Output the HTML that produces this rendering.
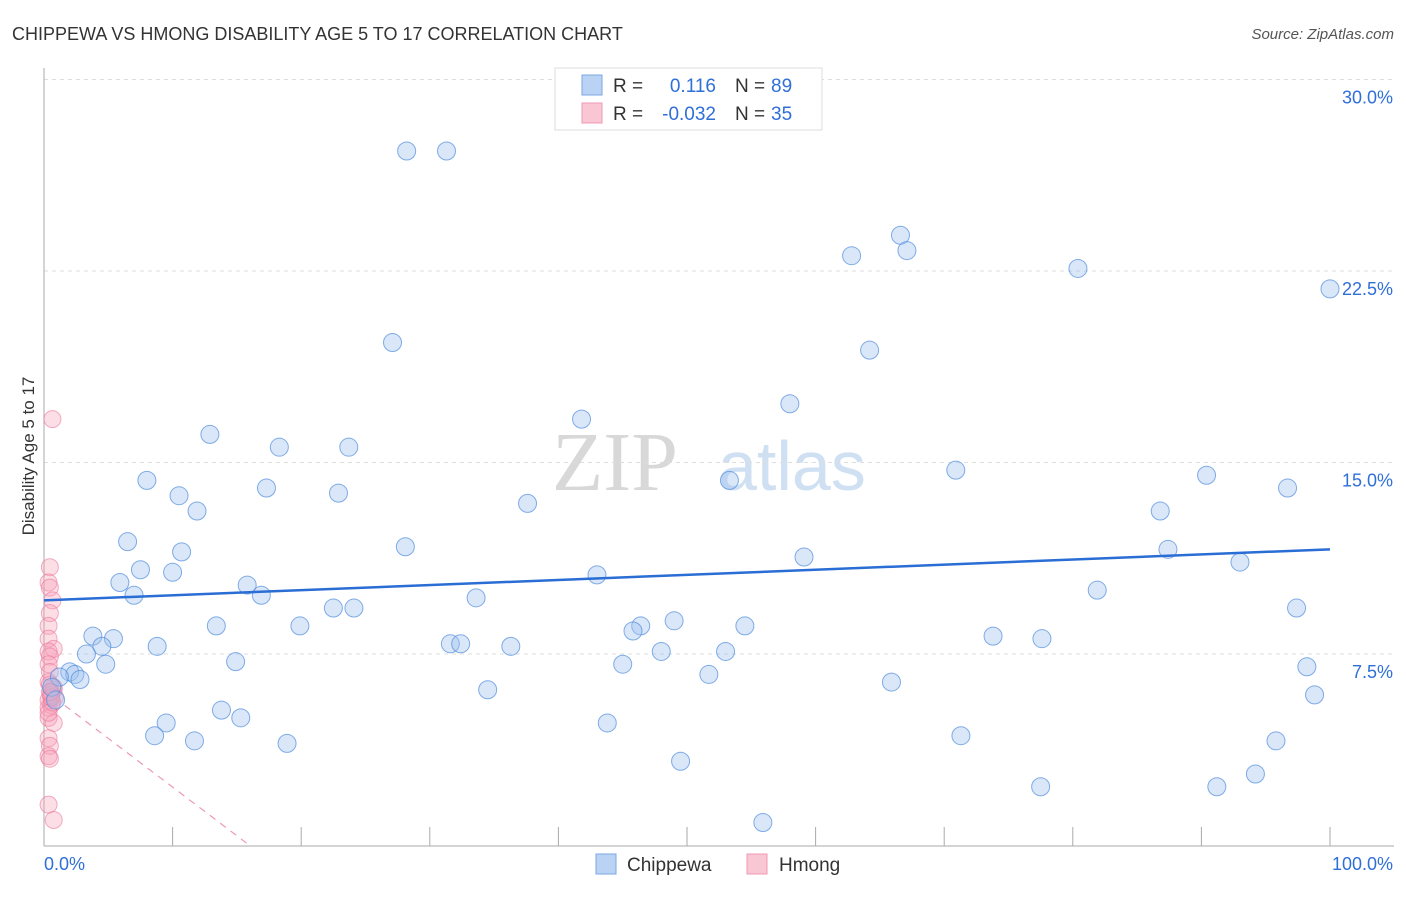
<!DOCTYPE html>
<html><head><meta charset="utf-8"><style>
body{margin:0;background:#fff;font-family:"Liberation Sans",sans-serif;}
</style></head><body>
<svg width="1406" height="892" id="chart" style="font-family:'Liberation Sans',sans-serif">
<text x="12" y="40" font-size="18" fill="#333">CHIPPEWA VS HMONG DISABILITY AGE 5 TO 17 CORRELATION CHART</text>
<text x="1394" y="39" font-size="15" fill="#555" text-anchor="end" font-style="italic">Source: ZipAtlas.com</text>
<text x="552" y="490" font-size="84" fill="#d8d8d8" style="font-family:'Liberation Serif',serif">ZIP</text>
<text x="718" y="490" font-size="70" fill="#cfe0f3">atlas</text>
<g id="grid"></g><g id="axes"></g><g id="marks"></g>
<text transform="translate(34,456) rotate(-90)" font-size="17" fill="#333" text-anchor="middle">Disability Age 5 to 17</text>
<g>
<rect x="555" y="68" width="267" height="62" fill="#fff" stroke="#ddd"/>
<rect x="582" y="75" width="20" height="20" fill="#bad3f4" stroke="#7aa7e4"/>
<rect x="582" y="103" width="20" height="20" fill="#f9c6d4" stroke="#f09ab2"/>
<text x="613" y="92" font-size="19" fill="#333">R = </text><text x="716" y="92" font-size="19" fill="#2f6fd8" text-anchor="end">0.116</text>
<text x="735" y="92" font-size="19" fill="#333">N = </text><text x="771" y="92" font-size="19" fill="#2f6fd8">89</text>
<text x="613" y="120" font-size="19" fill="#333">R = </text><text x="716" y="120" font-size="19" fill="#2f6fd8" text-anchor="end">-0.032</text>
<text x="735" y="120" font-size="19" fill="#333">N = </text><text x="771" y="120" font-size="19" fill="#2f6fd8">35</text>
</g>
<g>
<rect x="596" y="854" width="20" height="20" fill="#bad3f4" stroke="#7aa7e4"/><text x="627" y="871" font-size="19" fill="#333">Chippewa</text>
<rect x="747" y="854" width="20" height="20" fill="#f9c6d4" stroke="#f09ab2"/><text x="779" y="871" font-size="19" fill="#333">Hmong</text>
</g>
</svg>
<script>
const blueX=[28.2,31.3,66.6,67.1,62.8,80.4,100,27.1,64.2,58.0,41.8,12.9,18.3,23.7,70.9,90.4,8.0,53.3,17.3,22.9,10.5,96.7,37.6,11.9,86.8,6.5,28.1,10.7,87.4,59.1,93.0,7.5,10.0,43.0,5.9,15.8,7.0,16.9,81.9,33.6,22.5,24.1,97.4,19.9,13.4,49.0,46.4,54.5,45.8,3.8,5.4,73.8,77.6,31.6,32.4,4.5,8.8,36.3,48.0,53.0,3.3,14.9,4.8,45.0,98.2,2.0,2.4,2.8,1.2,51.7,65.9,0.6,34.5,98.8,0.9,13.8,15.3,9.5,43.8,8.6,71.3,11.7,18.9,95.8,49.5,94.2,77.5,91.2,55.9];
const blueY=[27.2,27.2,23.9,23.3,23.1,22.6,21.8,19.7,19.4,17.3,16.7,16.1,15.6,15.6,14.7,14.5,14.3,14.3,14.0,13.8,13.7,14.0,13.4,13.1,13.1,11.9,11.7,11.5,11.6,11.3,11.1,10.8,10.7,10.6,10.3,10.2,9.8,9.8,10.0,9.7,9.3,9.3,9.3,8.6,8.6,8.8,8.6,8.6,8.4,8.2,8.1,8.2,8.1,7.9,7.9,7.8,7.8,7.8,7.6,7.6,7.5,7.2,7.1,7.1,7.0,6.8,6.7,6.5,6.6,6.7,6.4,6.2,6.1,5.9,5.7,5.3,5.0,4.8,4.8,4.3,4.3,4.1,4.0,4.1,3.3,2.8,2.3,2.3,0.9];
const pinkX=[0.5,0.3,0.2,0.3,0.5,0.3,0.2,0.2,0.6,0.2,0.3,0.2,0.3,0.2,0.6,0.4,0.7,0.2,0.4,0.2,0.2,0.6,0.2,0.3,0.2,0.3,0.2,0.6,0.6,0.4,0.3,0.5,0.2,0.4,0.3];
const pinkY=[16.7,10.9,10.3,10.1,9.6,9.1,8.6,8.1,7.7,7.6,7.4,7.1,6.8,6.4,6.2,6.0,5.8,5.7,5.5,5.4,5.0,4.8,4.2,3.9,3.5,3.4,1.6,1.0,6.1,5.9,6.3,5.6,5.2,5.8,6.0];
const yTicks=[7.5,15.0,22.5,30.0];
const xTickLabels=["0.0%","100.0%"];
const blueTrend=[9.6,11.6];
const pinkTrend=[6.1,0];
const X=v=>44+v*12.86, Y=v=>845.5-v*25.533;
const NS="http://www.w3.org/2000/svg";
function mk(t,a,p){const e=document.createElementNS(NS,t);for(const k in a)e.setAttribute(k,a[k]);p.appendChild(e);return e;}
const grid=document.getElementById('grid'),axes=document.getElementById('axes'),marks=document.getElementById('marks');
yTicks.forEach(t=>{
 const l=mk('line',{x1:44,x2:1394,y1:Y(t),y2:Y(t),stroke:'#ddd','stroke-dasharray':'4,4'},grid);
 
 
 const tx=mk('text',{x:1393,y:Y(t)+24,'font-size':18,fill:'#2f6fd8','text-anchor':'end'},axes);
 tx.textContent=t.toFixed(1)+'%';
 
 
});
let a=mk('line',{x1:44,x2:44,y1:68,y2:846,stroke:'#aaa'},axes);


a=mk('line',{x1:44,x2:1394,y1:846,y2:846,stroke:'#aaa'},axes);


for(let i=1;i<=10;i++){const t=mk('line',{x1:X(i*10),x2:X(i*10),y1:827,y2:846,stroke:'#aaa'},axes);
 
 }
xTickLabels.forEach((s,i)=>{const t=mk('text',{x:i?1393:44,y:870,'font-size':18,fill:'#2f6fd8','text-anchor':i?'end':'start'},axes);t.textContent=s;
 
 });
pinkX.forEach((x,i)=>{const c=mk('circle',{cx:X(x)+2,cy:Y(pinkY[i]),r:8.5,fill:'rgba(246,160,186,0.35)',stroke:'rgba(236,120,155,0.6)'},marks);
 
 });
blueX.forEach((x,i)=>{const c=mk('circle',{cx:X(x),cy:Y(blueY[i]),r:9,fill:'rgba(160,196,240,0.4)',stroke:'rgba(80,140,220,0.7)'},marks);
 
 });
let tl=mk('line',{x1:X(0),x2:X(100),y1:Y(blueTrend[0]),y2:Y(blueTrend[1]),stroke:'#2a6dd4','stroke-width':2.5},marks);


tl=mk('line',{x1:X(0),x2:X(16),y1:Y(pinkTrend[0]),y2:Y(pinkTrend[1]),stroke:'#eb9ab0','stroke-width':1.2,'stroke-dasharray':'7,6'},marks);


</script>
</body></html>
